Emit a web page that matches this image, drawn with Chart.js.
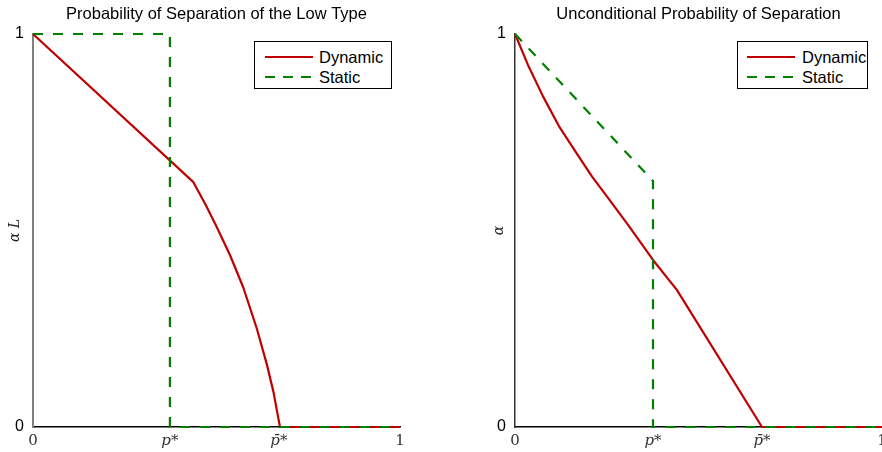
<!DOCTYPE html>
<html>
<head>
<meta charset="utf-8">
<script src="https://cdn.jsdelivr.net/npm/chart.js@4"></script>
<style>
  html, body { margin: 0; padding: 0; background: #fff; }
  body { width: 882px; height: 452px; overflow: hidden; position: relative; }
  .wrap { position: absolute; top: 0; }
  .legend {
    position: absolute; background: #fff; border: 1px solid #000;
    font-family: "Liberation Sans", Arial, sans-serif; font-size: 16.5px; color: #000;
  }
  .legend .row { position: absolute; left: 0; height: 20px; }
  .legend svg { position: absolute; top: 0; }
  .legend span { position: absolute; top: 0; line-height: 20px; white-space: nowrap; }
</style>
</head>
<body>
<div class="wrap" style="left:0"><canvas id="lowType" width="441" height="452"></canvas></div>
<div class="wrap" style="left:441px"><canvas id="uncond" width="460" height="452"></canvas></div>

<div class="legend" style="left:254px; top:41px; width:136px; height:46px">
  <div class="row" style="top:5px; width:136px">
    <svg width="60" height="20" style="left:10px"><line x1="0" y1="10" x2="48" y2="10" stroke="#c00000" stroke-width="2.2"/></svg>
    <span style="left:64px">Dynamic</span>
  </div>
  <div class="row" style="top:25px; width:136px">
    <svg width="60" height="20" style="left:10px"><line x1="0" y1="10" x2="48" y2="10" stroke="#008000" stroke-width="2.2" stroke-dasharray="10 8"/></svg>
    <span style="left:64px">Static</span>
  </div>
</div>
<div class="legend" style="left:737px; top:41px; width:129px; height:46px">
  <div class="row" style="top:5px; width:129px">
    <svg width="60" height="20" style="left:9px"><line x1="0" y1="10" x2="48" y2="10" stroke="#c00000" stroke-width="2.2"/></svg>
    <span style="left:64px">Dynamic</span>
  </div>
  <div class="row" style="top:25px; width:129px">
    <svg width="60" height="20" style="left:9px"><line x1="0" y1="10" x2="48" y2="10" stroke="#008000" stroke-width="2.2" stroke-dasharray="10 8"/></svg>
    <span style="left:64px">Static</span>
  </div>
</div>

<script>
// tick positions / labels
const lowXTicks = [0, 0.373, 0.670, 1];
const uncXTicks = [0, 0.376, 0.673, 1];
const xTickLabels = ['0', 'p*', 'p\u0304*', '1'];
const yTicks = [0, 1];

// left panel: probability of separation of the low type
const lowDynamicX = [0, 0.437, 0.470, 0.500, 0.537, 0.573, 0.610, 0.637, 0.655, 0.673, 1];
const lowDynamicY = [1, 0.623, 0.566, 0.510, 0.437, 0.355, 0.250, 0.160, 0.090, 0, 0];
const lowStaticX = [0, 0.373, 0.373, 1];
const lowStaticY = [1, 1, 0, 0];

// right panel: unconditional probability of separation
const uncDynamicX = [0, 0.035, 0.077, 0.120, 0.168, 0.210, 0.259, 0.309, 0.376, 0.441, 0.673, 1];
const uncDynamicY = [1, 0.922, 0.840, 0.765, 0.696, 0.637, 0.576, 0.513, 0.425, 0.349, 0, 0];
const uncStaticX = [0, 0.376, 0.376, 1];
const uncStaticY = [1, 0.626, 0, 0];

const RED = '#c00000';
const GREEN = '#008000';
const SANS = '"Liberation Sans", Arial, sans-serif';
const SERIF = '"DejaVu Serif", serif';

Chart.defaults.color = '#000';

const pts = (xs, ys) => xs.map((x, i) => ({x: x, y: ys[i]}));

function makeChart(id, cfg) {
  return new Chart(document.getElementById(id), {
    type: 'line',
    data: {
      datasets: [
        {
          label: 'Static',
          data: pts(cfg.staticX, cfg.staticY),
          borderColor: GREEN,
          borderWidth: 2.2,
          borderDash: [10, 10],
          pointRadius: 0,
          tension: 0,
          clip: false,
          order: 0
        },
        {
          label: 'Dynamic',
          data: pts(cfg.dynX, cfg.dynY),
          borderColor: RED,
          borderWidth: 2.2,
          borderJoinStyle: 'round',
          pointRadius: 0,
          tension: 0,
          clip: false,
          order: 1
        }
      ]
    },
    options: {
      responsive: false,
      animation: false,
      devicePixelRatio: 1,
      layout: { padding: cfg.padding },
      plugins: {
        legend: { display: false },
        tooltip: { enabled: false },
        title: {
          display: true,
          text: cfg.title,
          fullSize: false,
          color: '#000',
          font: { family: SANS, size: 16.5, weight: 'normal' },
          padding: { top: 5, bottom: 9.2 }
        }
      },
      scales: {
        x: {
          type: 'linear',
          min: 0,
          max: 1,
          grid: { display: false, drawTicks: false },
          border: { color: '#000', width: 1.5 },
          afterBuildTicks: (s) => { s.ticks = cfg.xTicks.map(v => ({value: v})); },
          afterFit: (s) => { s.height = 25; },
          ticks: {
            autoSkip: false,
            maxRotation: 0,
            padding: 5,
            color: '#333',
            font: (c) => ({
              family: SERIF,
              size: 15,
              style: (c.index === 1 || c.index === 2) ? 'italic' : 'normal'
            }),
            callback: (v, i) => xTickLabels[i]
          }
        },
        y: {
          min: 0,
          max: 1,
          grid: { display: false, drawTicks: false },
          border: { color: cfg.yBorder, width: cfg.yBorderWidth },
          afterBuildTicks: (s) => { s.ticks = yTicks.map(v => ({value: v})); },
          afterFit: (s) => { s.width = cfg.yWidth; },
          ticks: {
            padding: 9,
            font: { family: SANS, size: 16 },
            callback: (v) => String(v)
          },
          title: {
            display: true,
            text: cfg.yTitle,
            color: '#222',
            font: { family: SERIF, size: 14, style: 'italic' },
            padding: { top: cfg.yTitlePad, bottom: 0 }
          }
        }
      }
    }
  });
}

makeChart('lowType', {
  title: 'Probability of Separation of the Low Type',
  yTitle: 'α L',
  xTicks: lowXTicks,
  dynX: lowDynamicX, dynY: lowDynamicY,
  staticX: lowStaticX, staticY: lowStaticY,
  padding: { left: 0, right: 41, top: 0, bottom: 0 },
  yWidth: 33,
  yTitlePad: 7,
  yBorder: '#808080',
  yBorderWidth: 2
});

makeChart('uncond', {
  title: 'Unconditional Probability of Separation',
  yTitle: 'α',
  xTicks: uncXTicks,
  dynX: uncDynamicX, dynY: uncDynamicY,
  staticX: uncStaticX, staticY: uncStaticY,
  padding: { left: 50, right: 19, top: 0, bottom: 0 },
  yWidth: 24,
  yTitlePad: 0,
  yBorder: '#333',
  yBorderWidth: 1.5
});
</script>
</body>
</html>
